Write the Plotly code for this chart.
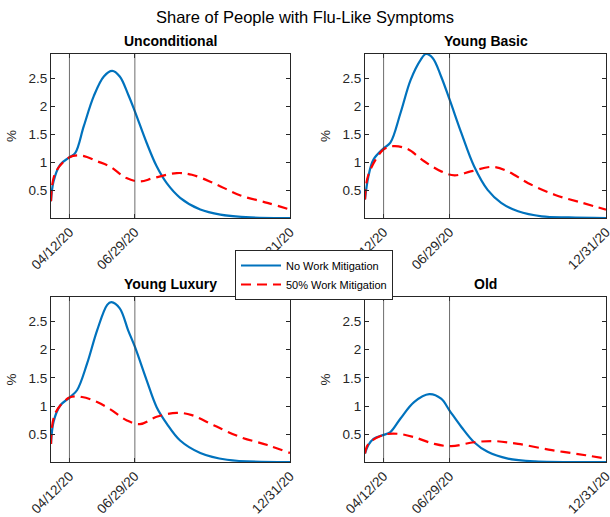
import pandas as pd
import plotly.graph_objects as go

# Simulation window and key policy dates
START = "2020-03-21"
END = "2020-12-31"
MARK_DATES = ["2020-04-12", "2020-06-29"]
TICK_DATES = ["2020-04-12", "2020-06-29", "2020-12-31"]
TICK_TEXT = ["04/12/20", "06/29/20", "12/31/20"]

PANELS = ["Unconditional", "Young Basic", "Young Luxury", "Old"]

# Share with flu-like symptoms (%), sampled by day since START
unc_days_nm = [0, 3, 11, 22, 29, 39, 51, 63, 73, 82, 92, 100, 114, 126, 138, 154, 178, 202, 238, 285]
unc_no_mit = [0.31, 0.66, 0.96, 1.09, 1.17, 1.64, 2.18, 2.53, 2.63, 2.53, 2.21, 1.91, 1.35, 0.93, 0.63, 0.37, 0.16, 0.07, 0.02, 0.01]
unc_days_wm = [0, 5, 22, 37, 55, 70, 90, 106, 122, 150, 168, 194, 226, 258, 285]
unc_work_mit = [0.31, 0.81, 1.09, 1.12, 1.02, 0.93, 0.72, 0.66, 0.72, 0.81, 0.78, 0.63, 0.41, 0.28, 0.16]

yb_days_nm = [0, 4, 10, 22, 30, 42, 54, 66, 72, 80, 90, 100, 114, 129, 145, 161, 181, 209, 241, 285]
yb_no_mit = [0.34, 0.75, 1.05, 1.25, 1.35, 1.88, 2.47, 2.83, 2.93, 2.86, 2.53, 2.12, 1.52, 0.93, 0.51, 0.28, 0.13, 0.04, 0.02, 0.01]
yb_days_wm = [0, 4, 22, 34, 50, 70, 90, 106, 125, 151, 169, 193, 225, 257, 285]
yb_work_mit = [0.34, 0.78, 1.23, 1.29, 1.24, 1.02, 0.84, 0.77, 0.84, 0.92, 0.84, 0.63, 0.42, 0.28, 0.16]

yl_days_nm = [0, 3, 11, 22, 31, 43, 55, 67, 72, 82, 92, 100, 114, 126, 138, 154, 178, 210, 285]
yl_no_mit = [0.33, 0.72, 1.01, 1.15, 1.28, 1.75, 2.34, 2.79, 2.84, 2.73, 2.34, 2.05, 1.46, 0.98, 0.69, 0.39, 0.17, 0.05, 0.01]
yl_days_wm = [0, 5, 22, 37, 55, 70, 90, 106, 126, 150, 168, 194, 226, 258, 285]
yl_work_mit = [0.33, 0.87, 1.15, 1.16, 1.07, 0.95, 0.75, 0.68, 0.81, 0.88, 0.84, 0.66, 0.45, 0.31, 0.17]

old_days_nm = [0, 4, 10, 22, 30, 42, 58, 76, 90, 100, 114, 129, 145, 169, 201, 285]
old_no_mit = [0.16, 0.31, 0.42, 0.49, 0.54, 0.78, 1.07, 1.21, 1.13, 0.92, 0.63, 0.36, 0.19, 0.07, 0.02, 0.01]
old_days_wm = [0, 4, 22, 38, 58, 82, 102, 129, 153, 181, 221, 261, 285]
old_work_mit = [0.16, 0.33, 0.49, 0.51, 0.45, 0.33, 0.29, 0.36, 0.38, 0.33, 0.22, 0.13, 0.07]

SERIES = [
    (unc_days_nm, unc_no_mit, unc_days_wm, unc_work_mit),
    (yb_days_nm, yb_no_mit, yb_days_wm, yb_work_mit),
    (yl_days_nm, yl_no_mit, yl_days_wm, yl_work_mit),
    (old_days_nm, old_no_mit, old_days_wm, old_work_mit),
]

BLUE = "#0072BD"
RED = "#FF0000"
AXIS = "#262626"
FONT = "Liberation Sans, Arial, sans-serif"

W, H = 610, 517
# panel boxes in pixels: (left, right, top, bottom)
BOXES = [(51, 290, 54, 218), (365, 606, 54, 218), (51, 290, 297, 462), (365, 606, 297, 462)]

start = pd.Timestamp(START)


def to_dates(days):
    return [start + pd.Timedelta(days=d) for d in days]


fig = go.Figure()
layout = {}
for i, (name, (dn, vn, dw, vw), box) in enumerate(zip(PANELS, SERIES, BOXES)):
    k = "" if i == 0 else str(i + 1)
    xa, ya = "x" + k, "y" + k
    l, r, t, b = box
    fig.add_trace(go.Scatter(
        x=to_dates(dn), y=vn, xaxis=xa, yaxis=ya, mode="lines",
        line=dict(color=BLUE, width=2.2, shape="spline", smoothing=1.0),
        name="No Work Mitigation", showlegend=(i == 0), legendrank=1,
    ))
    fig.add_trace(go.Scatter(
        x=to_dates(dw), y=vw, xaxis=xa, yaxis=ya, mode="lines",
        line=dict(color=RED, width=2.2, dash="10px,6px", shape="spline", smoothing=1.0),
        name="50% Work Mitigation", showlegend=(i == 0), legendrank=2,
    ))
    layout["xaxis" + k] = dict(
        domain=[l / W, r / W], anchor=ya, type="date", automargin=False,
        range=[START, END], tickvals=TICK_DATES, ticktext=TICK_TEXT,
        tickangle=-45, ticks="inside", ticklen=4, tickcolor=AXIS,
        ticklabeloverflow="allow",
        showline=True, linecolor=AXIS, linewidth=1, mirror="ticks",
        showgrid=False, zeroline=False,
        tickfont=dict(family=FONT, size=13.5, color=AXIS),
    )
    layout["yaxis" + k] = dict(
        domain=[1 - b / H, 1 - t / H], anchor=xa, automargin=False,
        range=[0.01, 2.93], tickvals=[0.5, 1, 1.5, 2, 2.5],
        ticktext=["0.5", "1", "1.5", "2", "2.5"],
        ticks="inside", ticklen=4, tickcolor=AXIS,
        ticklabeloverflow="allow",
        showline=True, linecolor=AXIS, linewidth=1, mirror="ticks",
        showgrid=False, zeroline=False,
        title=dict(text="%", font=dict(family=FONT, size=13.5, color=AXIS), standoff=8),
        tickfont=dict(family=FONT, size=13.5, color=AXIS),
    )
    for d in MARK_DATES:
        fig.add_shape(type="line", xref=xa, yref=ya + " domain",
                      x0=d, x1=d, y0=0, y1=1,
                      line=dict(color="rgba(60,60,60,0.75)", width=1))
    fig.add_annotation(text="<b>%s</b>" % name, xref="paper", yref="paper",
                       x=(l + r) / 2 / W, y=1 - (t - 3) / H,
                       xanchor="center", yanchor="bottom", showarrow=False,
                       font=dict(family=FONT, size=14, color="#000000"))

fig.add_annotation(text="Share of People with Flu-Like Symptoms", xref="paper", yref="paper",
                   x=0.5, y=1 - 6 / H, xanchor="center", yanchor="top", showarrow=False,
                   font=dict(family=FONT, size=16.5, color="#000000"))

fig.update_layout(
    **layout,
    width=W, height=H,
    margin=dict(l=0, r=0, t=0, b=0),
    paper_bgcolor="white", plot_bgcolor="white",
    showlegend=True,
    legend=dict(x=235 / W, y=1 - 250 / H, xanchor="left", yanchor="top",
                bgcolor="white", bordercolor=AXIS, borderwidth=1,
                font=dict(family=FONT, size=11, color="#000000"),
                itemwidth=40, tracegroupgap=0),
)

fig.write_html("out.html")
